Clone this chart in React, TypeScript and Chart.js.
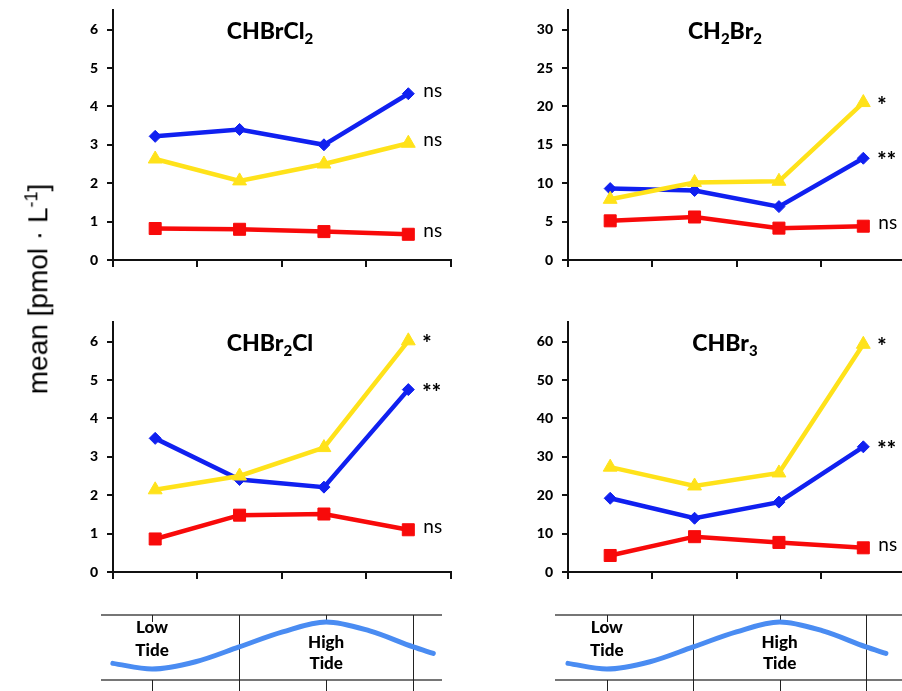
import React, { useEffect, useRef } from 'react';
import { Chart, registerables } from 'chart.js';
Chart.register(...registerables);

// ---------- data ----------
const categories = ['1', '2', '3', '4'];

const chbrcl2Blue = [3.22, 3.4, 3.0, 4.33];
const chbrcl2Yellow = [2.63, 2.06, 2.5, 3.04];
const chbrcl2Red = [0.82, 0.8, 0.74, 0.67];
const chbrcl2Sig = ['ns', 'ns', 'ns']; // blue, yellow, red

const ch2br2Blue = [9.3, 9.05, 6.95, 13.25];
const ch2br2Yellow = [7.9, 10.1, 10.25, 20.5];
const ch2br2Red = [5.1, 5.6, 4.15, 4.4];
const ch2br2Sig = ['**', '*', 'ns'];

const chbr2clBlue = [3.48, 2.41, 2.21, 4.75];
const chbr2clYellow = [2.14, 2.5, 3.24, 6.02];
const chbr2clRed = [0.86, 1.48, 1.51, 1.1];
const chbr2clSig = ['**', '*', 'ns'];

const chbr3Blue = [19.2, 14.0, 18.2, 32.6];
const chbr3Yellow = [27.3, 22.4, 25.8, 59.3];
const chbr3Red = [4.3, 9.2, 7.7, 6.3];
const chbr3Sig = ['**', '*', 'ns'];

const yMaxes = [6.5, 32.5, 6.5, 65];
const ySteps = [1, 5, 1, 10];

// tide sketch (position in sampling-slot units, relative level 0 = low, 1 = high)
const tideX = [-0.45, 0, 0.5, 1, 1.5, 2, 2.5, 3, 3.23];
const tideLevel = [0.12, 0, 0.155, 0.47, 0.79, 1, 0.81, 0.47, 0.33];
const tideFullLines = [1, 3];
const tideShortTicks = [0, 2];
const tideLabelPos = [0, 2];
const tideLabels = [['Low', 'Tide'], ['High', 'Tide']];

const BLUE = '#1020F0';
const YELLOW = '#FFE21A';
const RED = '#F80A0A';
const TIDE = '#4A8CF2';
const FONT = 'Lato, "Open Sans", "DejaVu Sans", sans-serif';

type TitlePart = [string, boolean];

const titleParts: TitlePart[][] = [
  [['CHBrCl', false], ['2', true]],
  [['CH', false], ['2', true], ['Br', false], ['2', true]],
  [['CHBr', false], ['2', true], ['Cl', false]],
  [['CHBr', false], ['3', true]],
];

function drawTitle(ctx: CanvasRenderingContext2D, parts: TitlePart[], cx: number, cy: number) {
  const mainFont = `900 23px ${FONT}`;
  const subFont = `900 15px ${FONT}`;
  let total = 0;
  for (const [t, sub] of parts) {
    ctx.font = sub ? subFont : mainFont;
    total += ctx.measureText(t).width;
  }
  let x = cx - total / 2;
  ctx.textAlign = 'left';
  ctx.textBaseline = 'alphabetic';
  ctx.fillStyle = '#000';
  for (const [t, sub] of parts) {
    ctx.font = sub ? subFont : mainFont;
    ctx.fillText(t, x, cy + 8 + (sub ? 5 : 0));
    x += ctx.measureText(t).width;
  }
}

interface PanelProps {
  left: number;
  top: number;
  idx: number;
  blue: number[];
  yellow: number[];
  red: number[];
  sig: string[];
}

const PANEL_W = 410;
const PANEL_H = 287;

function LinePanel({ left, top, idx, blue, yellow, red, sig }: PanelProps) {
  const ref = useRef<HTMLCanvasElement>(null);
  useEffect(() => {
    const step = ySteps[idx];
    const annot = {
      id: 'annot',
      afterDatasetsDraw(chart: any) {
        const ctx = chart.ctx as CanvasRenderingContext2D;
        const area = chart.chartArea;
        ctx.save();
        drawTitle(ctx, titleParts[idx], area.left + 157, area.top + 21);
        // datasets order: 0 yellow, 1 blue, 2 red ; sig order: blue, yellow, red
        const map = [1, 0, 2];
        sig.forEach((s, k) => {
          const meta = chart.getDatasetMeta(map[k]);
          const pt = meta.data[meta.data.length - 1];
          ctx.fillStyle = '#000';
          ctx.textAlign = 'left';
          if (s === 'ns') {
            ctx.textBaseline = 'middle';
            ctx.font = `19px ${FONT}`;
            ctx.fillText(s, pt.x + 15, pt.y - 3);
          } else {
            ctx.textBaseline = 'top';
            ctx.font = `900 22px ${FONT}`;
            ctx.fillText(s, pt.x + 14, pt.y - 8);
          }
        });
        ctx.restore();
      },
    };
    const common = { borderWidth: 4.5, tension: 0, clip: false as any, pointBorderWidth: 1 };
    const chart = new Chart(ref.current!, {
      type: 'line',
      data: {
        labels: categories,
        datasets: [
          { ...common, data: yellow, borderColor: YELLOW, backgroundColor: YELLOW, pointStyle: 'triangle', pointRadius: 8 },
          { ...common, data: blue, borderColor: BLUE, backgroundColor: BLUE, pointStyle: 'rectRot', pointRadius: 6 },
          { ...common, data: red, borderColor: RED, backgroundColor: RED, pointStyle: 'rect', pointRadius: 8.5 },
        ],
      },
      options: {
        responsive: false,
        animation: false,
        devicePixelRatio: 1,
        events: [],
        layout: { padding: { top: 0, right: 5, left: 0, bottom: 0 } },
        plugins: { legend: { display: false }, tooltip: { enabled: false }, title: { display: false } },
        scales: {
          x: {
            offset: true,
            grid: { offset: true, drawOnChartArea: false, drawTicks: true, tickLength: 7, color: '#111', lineWidth: 2 },
            border: { display: true, color: '#111', width: 2 },
            ticks: { display: false },
            afterFit: (s: any) => { s.height = 20; },
          } as any,
          y: {
            min: 0,
            max: yMaxes[idx],
            grid: { drawOnChartArea: false, drawTicks: true, tickLength: 6, color: '#111', lineWidth: 2 },
            border: { display: true, color: '#111', width: 2 },
            ticks: { stepSize: step, color: '#000', font: { family: FONT, size: 14, weight: '900' }, padding: 9 },
            afterBuildTicks: (s: any) => {
              s.ticks = s.ticks.filter((t: any) => Math.abs(t.value / step - Math.round(t.value / step)) < 1e-6);
            },
            afterFit: (s: any) => { s.width = 63; },
          } as any,
        },
      },
      plugins: [annot],
    });
    return () => chart.destroy();
  }, []);
  return (
    <canvas
      ref={ref}
      width={PANEL_W}
      height={PANEL_H}
      style={{ position: 'absolute', left, top, width: PANEL_W, height: PANEL_H, display: 'block' }}
    />
  );
}

interface TideProps {
  left: number;
  width: number;
  xmin: number;
  xmax: number;
}

function TidePanel({ left, width, xmin, xmax }: TideProps) {
  const ref = useRef<HTMLCanvasElement>(null);
  useEffect(() => {
    const deco = {
      id: 'tideDeco',
      beforeDatasetsDraw(chart: any) {
        const ctx = chart.ctx as CanvasRenderingContext2D;
        const a = chart.chartArea;
        const xs = chart.scales.x;
        const H = chart.height;
        ctx.save();
        ctx.strokeStyle = '#4a4a4a';
        ctx.lineWidth = 1.5;
        ctx.beginPath();
        ctx.moveTo(a.left, a.top);
        ctx.lineTo(a.right, a.top);
        ctx.moveTo(a.left, a.bottom);
        ctx.lineTo(a.right, a.bottom);
        ctx.stroke();
        ctx.strokeStyle = '#222';
        ctx.lineWidth = 1;
        ctx.beginPath();
        for (const v of tideFullLines) {
          const px = Math.round(xs.getPixelForValue(v)) + 0.5;
          ctx.moveTo(px, a.top);
          ctx.lineTo(px, H);
        }
        for (const v of tideShortTicks) {
          const px = Math.round(xs.getPixelForValue(v)) + 0.5;
          ctx.moveTo(px, a.top);
          ctx.lineTo(px, a.top + 7);
          ctx.moveTo(px, a.bottom);
          ctx.lineTo(px, H);
        }
        ctx.stroke();
        ctx.restore();
      },
      afterDatasetsDraw(chart: any) {
        const ctx = chart.ctx as CanvasRenderingContext2D;
        const a = chart.chartArea;
        const xs = chart.scales.x;
        ctx.save();
        ctx.fillStyle = '#000';
        ctx.font = `900 17px ${FONT}`;
        ctx.textAlign = 'center';
        ctx.textBaseline = 'middle';
        const offs = [[13, 36], [28, 49]];
        tideLabels.forEach((lines, i) => {
          const px = xs.getPixelForValue(tideLabelPos[i]);
          lines.forEach((t, j) => ctx.fillText(t, px, a.top + offs[i][j]));
        });
        ctx.restore();
      },
    };
    const chart = new Chart(ref.current!, {
      type: 'line',
      data: {
        datasets: [
          {
            data: tideX.map((x, i) => ({ x, y: tideLevel[i] })),
            borderColor: TIDE,
            borderWidth: 5,
            pointRadius: 0,
            cubicInterpolationMode: 'monotone',
            borderCapStyle: 'round',
            clip: false as any,
          },
        ],
      },
      options: {
        responsive: false,
        animation: false,
        devicePixelRatio: 1,
        events: [],
        layout: { padding: { top: 10, bottom: 11, left: 0, right: 0 } },
        plugins: { legend: { display: false }, tooltip: { enabled: false } },
        scales: {
          x: { type: 'linear', min: xmin, max: xmax, display: false },
          y: { min: -0.234, max: 1.149, display: false },
        },
      },
      plugins: [deco],
    });
    return () => chart.destroy();
  }, []);
  return (
    <canvas
      ref={ref}
      width={width}
      height={86}
      style={{ position: 'absolute', left, top: 605, width, height: 86, display: 'block' }}
    />
  );
}

export default function App() {
  return (
    <div
      style={{
        position: 'fixed',
        left: 0,
        top: 0,
        width: 902,
        height: 691,
        overflow: 'hidden',
        background: '#fff',
      }}
    >
      <LinePanel left={50} top={-7} idx={0} blue={chbrcl2Blue} yellow={chbrcl2Yellow} red={chbrcl2Red} sig={chbrcl2Sig} />
      <LinePanel left={505} top={-7} idx={1} blue={ch2br2Blue} yellow={ch2br2Yellow} red={ch2br2Red} sig={ch2br2Sig} />
      <LinePanel left={50} top={305} idx={2} blue={chbr2clBlue} yellow={chbr2clYellow} red={chbr2clRed} sig={chbr2clSig} />
      <LinePanel left={505} top={305} idx={3} blue={chbr3Blue} yellow={chbr3Yellow} red={chbr3Red} sig={chbr3Sig} />
      <TidePanel left={101} width={341} xmin={-0.586} xmax={3.33} />
      <TidePanel left={555} width={400} xmin={-0.6} xmax={4.03} />
      <div
        style={{
          position: 'absolute',
          left: 38,
          top: 289,
          transform: 'translate(-50%, -50%) rotate(-90deg)',
          whiteSpace: 'nowrap',
          fontFamily: '"Liberation Sans", Arial, sans-serif',
          fontSize: 28,
          color: '#000',
          lineHeight: 'normal',
        }}
      >
        mean [pmol · L<sup style={{ fontSize: 18 }}>-1</sup>]
      </div>
    </div>
  );
}
